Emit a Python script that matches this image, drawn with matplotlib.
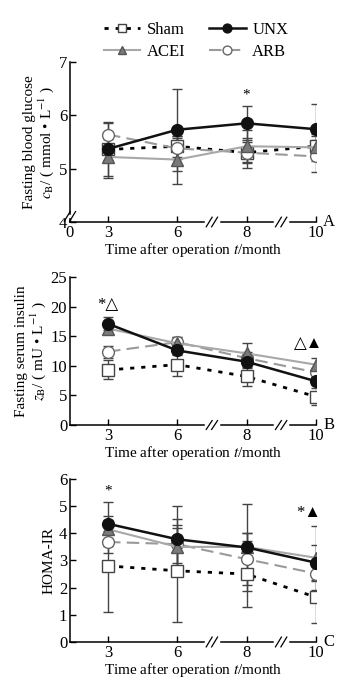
import numpy as np
import matplotlib.pyplot as plt

plt.rcParams.update({
    'font.family': ['Liberation Serif', 'DejaVu Sans'],
    'mathtext.fontset': 'stix',
    'font.size': 10,
    'xtick.direction': 'in', 'ytick.direction': 'in',
})

months = ['3', '6', '8', '10']
pos = np.array([1, 2, 3, 4])
groups = ['Sham', 'UNX', 'ACEI', 'ARB']

# Panel A: fasting blood glucose (mmol/L)
glu_mean = {'Sham': [5.36, 5.42, 5.30, 5.42], 'UNX': [5.37, 5.73, 5.85, 5.74],
            'ACEI': [5.22, 5.17, 5.42, 5.40], 'ARB': [5.64, 5.38, 5.30, 5.23]}
glu_err = {'Sham': [0.20, 0.20, 0.28, 0.20], 'UNX': [0.50, 0.77, 0.32, 0.48],
           'ACEI': [0.40, 0.45, 0.30, 0.25], 'ARB': [0.22, 0.20, 0.20, 0.30]}

# Panel B: fasting serum insulin (mU/L)
ins_mean = {'Sham': [9.3, 10.2, 8.2, 4.8], 'UNX': [17.1, 12.6, 10.7, 7.4],
            'ACEI': [16.3, 13.8, 12.1, 10.2], 'ARB': [12.4, 14.0, 11.3, 8.9]}
ins_err = {'Sham': [1.6, 1.9, 1.6, 1.5], 'UNX': [1.1, 0.8, 1.0, 0.6],
           'ACEI': [1.0, 1.0, 1.8, 1.1], 'ARB': [1.0, 0.8, 1.0, 0.8]}

# Panel C: HOMA-IR
homa_mean = {'Sham': [2.80, 2.62, 2.50, 1.65], 'UNX': [4.35, 3.78, 3.48, 2.92],
             'ACEI': [4.15, 3.50, 3.50, 3.10], 'ARB': [3.68, 3.60, 3.05, 2.52]}
homa_err = {'Sham': [1.68, 1.90, 1.22, 0.95], 'UNX': [0.80, 1.24, 1.60, 0.65],
            'ACEI': [0.50, 0.70, 0.50, 1.18], 'ARB': [0.40, 0.70, 0.95, 0.27]}

style = {
    'Sham': dict(color='black', ls=(0, (1.5, 2.5)), lw=2.0, marker='s', mfc='white',
                 mec='#444444', ms=8.5),
    'UNX': dict(color='#111111', ls='-', lw=1.8, marker='o', mfc='#111111',
                mec='#111111', ms=8.5),
    'ACEI': dict(color='#a8a8a8', ls='-', lw=1.5, marker='^', mfc='#7a7a7a',
                 mec='#555555', ms=8.5),
    'ARB': dict(color='#9a9a9a', ls=(0, (6, 3)), lw=1.5, marker='o', mfc='white',
                mec='#666666', ms=8.5),
}


def break_mark(ax, x, y):
    # small "//" on an axis line, in axes fraction coords
    ax.plot([x - 0.025, x + 0.025], [y, y], transform=ax.transAxes, color='white',
            lw=2.5, clip_on=False, zorder=5)
    for dx in (-0.011, 0.011):
        ax.plot([x + dx - 0.012, x + dx + 0.012], [y - 0.03, y + 0.03],
                transform=ax.transAxes, color='black', lw=0.9, clip_on=False, zorder=6)


def panel(ax, means, errs, ylim, yticks, ylabel, label, first=False):
    for g in groups:
        ax.errorbar(pos, means[g], yerr=errs[g], fmt='none', ecolor='#444444',
                    elinewidth=1.0, capsize=3.5, capthick=1.0, zorder=2)
    for g in ['Sham', 'ARB', 'ACEI', 'UNX']:
        ax.plot(pos, means[g], label=g, zorder=4, **style[g])
    ax.set_xlim(0.45, 4.0)
    ax.set_ylim(*ylim)
    ax.set_yticks(yticks)
    if first:
        ax.set_xticks([0.45] + list(pos))
        ax.set_xticklabels(['0'] + months)
    else:
        ax.set_xticks(pos)
        ax.set_xticklabels(months)
    ax.tick_params(length=4, width=1, labelsize=12, pad=2)
    for sp in ['top', 'right']:
        ax.spines[sp].set_visible(False)
    for sp in ['left', 'bottom']:
        ax.spines[sp].set_linewidth(1.1)
    ax.set_xlabel('Time after operation $t$/month', fontsize=11, labelpad=0)
    ax.set_ylabel(ylabel, fontsize=11, labelpad=2, linespacing=1.0)
    # axis breaks between 6-8 and 8-10
    for p in (2.5, 3.5):
        break_mark(ax, (p - 0.45) / 3.55, 0)
    ax.text(1.03, 0.0, label, transform=ax.transAxes, fontsize=12,
            ha='left', va='center')


fig = plt.figure(figsize=(3.41, 6.82), dpi=100)
axA = fig.add_axes([0.205, 0.6745, 0.721, 0.2346])
axB = fig.add_axes([0.205, 0.3768, 0.721, 0.217])
axC = fig.add_axes([0.205, 0.0587, 0.721, 0.239])

panel(axA, glu_mean, glu_err, (4, 7), [4, 5, 6, 7],
      'Fasting blood glucose\n$c_\\mathrm{B}$/ ( mmol • L$^{-1}$ )', 'A', first=True)
break_mark(axA, 0.0, 0.035)
axA.text(3, 6.38, '*', ha='center', va='center', fontsize=11)

panel(axB, ins_mean, ins_err, (0, 25), [0, 5, 10, 15, 20, 25],
      'Fasting serum insulin\n$z_\\mathrm{B}$/ ( mU • L$^{-1}$ )', 'B')
axB.text(1.0, 20.3, '*△', ha='center', va='center', fontsize=12)
axB.text(3.9, 13.7, '△▲', ha='center', va='center', fontsize=12)

panel(axC, homa_mean, homa_err, (0, 6), [0, 1, 2, 3, 4, 5, 6], 'HOMA-IR', 'C')
axC.text(1.0, 5.55, '*', ha='center', va='center', fontsize=11)
axC.text(3.9, 4.75, '*▲', ha='center', va='center', fontsize=12)

handles, labels = axA.get_legend_handles_labels()
order = [labels.index(n) for n in ['Sham', 'ACEI', 'UNX', 'ARB']]
fig.legend([handles[i] for i in order], [labels[i] for i in order],
           loc='upper left', bbox_to_anchor=(0.26, 0.99), ncol=2,
           frameon=False, fontsize=12, handlelength=2.2, handletextpad=0.4,
           columnspacing=1.4, labelspacing=0.35, markerscale=0.75)

fig.savefig('out.png', dpi=100)
